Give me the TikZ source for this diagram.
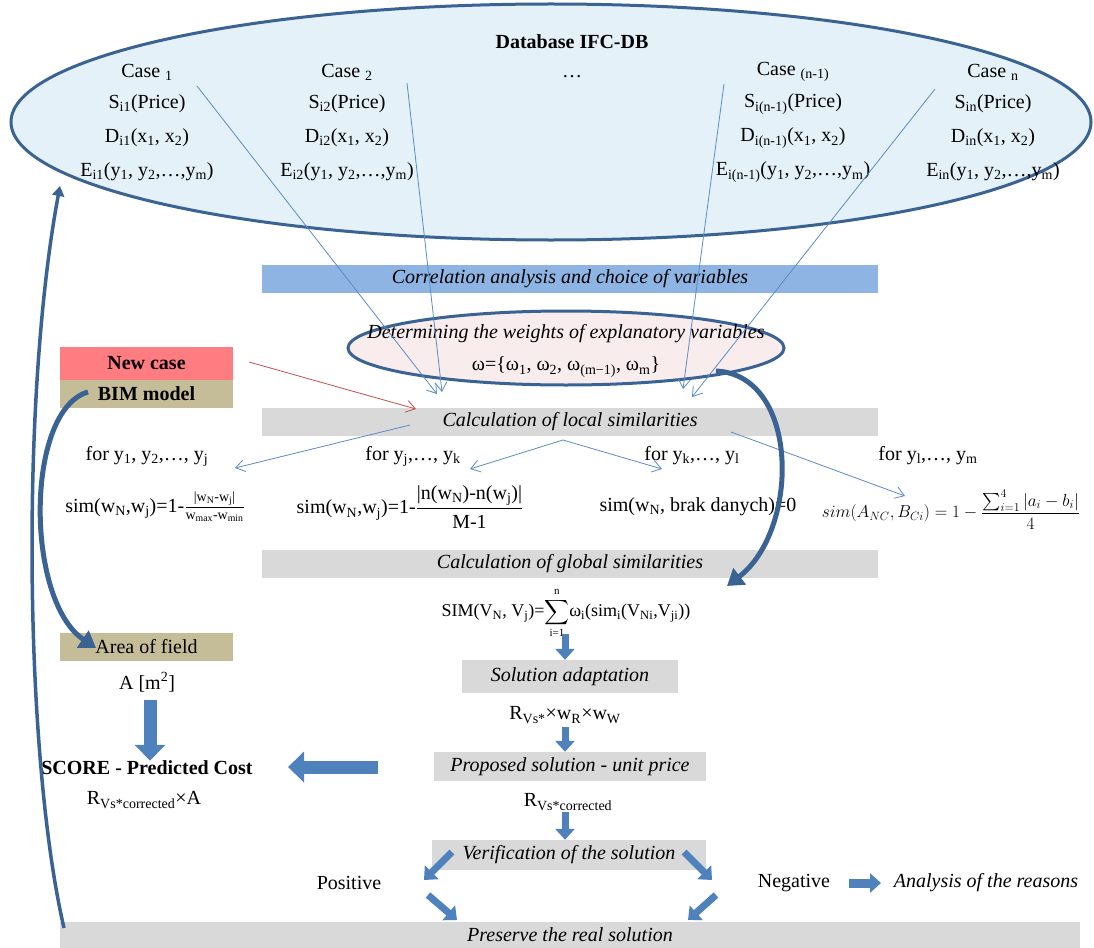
\documentclass[tikz,border=0pt]{standalone}
\usepackage{fontspec}
\setmainfont{Liberation Serif}
\usepackage{amsmath}
\usetikzlibrary{arrows.meta,shapes.geometric,calc}
\definecolor{dbfill}{HTML}{E4F1F8}
\definecolor{dkblue}{HTML}{3A6394}
\definecolor{lnblue}{HTML}{5B8BC9}
\definecolor{barblue}{HTML}{8DB4E2}
\definecolor{bargray}{HTML}{D9D9D9}
\definecolor{pinkfill}{HTML}{F9ECEC}
\definecolor{newred}{HTML}{FF7C80}
\definecolor{tanc}{HTML}{C4BD97}
\definecolor{arrfill}{HTML}{4F81BD}
\definecolor{redln}{HTML}{C0504D}
\newcommand\lo[1]{\textsubscript{#1}}
\newcommand\hi[1]{\textsuperscript{#1}}
\begin{document}
\begin{tikzpicture}[x=1pt,y=-1pt,
  font=\fontsize{20}{24}\selectfont,
  txt/.style={inner sep=0pt},
  graybar/.style={fill=bargray,inner sep=0pt,minimum height=28pt,font=\fontsize{20}{24}\selectfont\itshape},
  bluebar/.style={fill=barblue,inner sep=0pt,minimum height=28pt,font=\fontsize{20}{24}\selectfont\itshape},
  tanbox/.style={fill=tanc,inner sep=0pt,minimum width=173pt,minimum height=28pt},
  thinarr/.style={draw=lnblue,line width=0.8pt,-{Straight Barb[length=9pt,width=12pt]}},
  redarr/.style={draw=redln,line width=0.8pt,-{Straight Barb[length=9pt,width=12pt]}},
  blk/.style={draw=arrfill,line width=7pt,-{Triangle[length=11pt,width=19pt]}},
  curv/.style={draw=dkblue,line width=5pt,-{Triangle[length=16pt,width=20pt]}}
]
\useasboundingbox (0,0) rectangle (1094,947);

% database ellipse
\node[ellipse,draw=dkblue,line width=3pt,fill=dbfill,minimum width=1080pt,minimum height=236pt,inner sep=0pt] (db) at (551,122) {};
\node[txt,font=\fontsize{20}{24}\selectfont\bfseries] (dbt) at (572,42) {Database IFC-DB};
\node[txt] (c1) at (147,72) {Case \lo{1}};
\node[txt] (s1) at (147,104) {S\lo{i1}(Price)};
\node[txt] (d1) at (147,138) {D\lo{i1}(x\lo{1}, x\lo{2})};
\node[txt] (e1) at (147,172) {E\lo{i1}(y\lo{1}, y\lo{2},\ldots,y\lo{m})};
\node[txt] (c2) at (347,72) {Case \lo{2}};
\node[txt] (s2) at (347,104) {S\lo{i2}(Price)};
\node[txt] (d2) at (347,138) {D\lo{i2}(x\lo{1}, x\lo{2})};
\node[txt] (e2) at (347,172) {E\lo{i2}(y\lo{1}, y\lo{2},\ldots,y\lo{m})};
\node[txt] (dots) at (572,77) {\ldots};
\node[txt] (c3) at (793,72) {Case \lo{(n-1)}};
\node[txt] (s3) at (793,104) {S\lo{i(n-1)}(Price)};
\node[txt] (d3) at (793,138) {D\lo{i(n-1)}(x\lo{1}, x\lo{2})};
\node[txt] (e3) at (793,172) {E\lo{i(n-1)}(y\lo{1}, y\lo{2},\ldots,y\lo{m})};
\node[txt] (c4) at (993,72) {Case \lo{n}};
\node[txt] (s4) at (993,104) {S\lo{in}(Price)};
\node[txt] (d4) at (993,138) {D\lo{in}(x\lo{1}, x\lo{2})};
\node[txt] (e4) at (993,172) {E\lo{in}(y\lo{1}, y\lo{2},\ldots,y\lo{m})};

% bars
\node[bluebar,minimum width=616pt] (corr) at (570,279) {Correlation analysis and choice of variables};
\node[ellipse,draw=dkblue,line width=3pt,fill=pinkfill,minimum width=436pt,minimum height=74pt,inner sep=0pt] (wts) at (566,348) {};
\node[txt,font=\fontsize{20}{24}\selectfont\itshape] (wt1) at (566,334) {Determining the weights of explanatory variables};
\node[txt] (wt2) at (566,367) {ω=\{ω\lo{1}, ω\lo{2}, ω\lo{(m−1)}, ω\lo{m}\}};

\node[fill=newred,inner sep=0pt,minimum width=173pt,minimum height=33pt,font=\fontsize{20}{24}\selectfont\bfseries] (new) at (146.5,363.5) {New case};
\node[tanbox,font=\fontsize{20}{24}\selectfont\bfseries] (bim) at (146.5,394) {BIM model};

\node[graybar,minimum width=616pt] (loc) at (570,422) {Calculation of local similarities};

\node[txt] (f1) at (147,456) {for y\lo{1}, y\lo{2},\ldots, y\lo{j}};
\node[txt] (f2) at (413,456) {for y\lo{j},\ldots, y\lo{k}};
\node[txt] (f3) at (692,456) {for y\lo{k},\ldots, y\lo{l}};
\node[txt] (f4) at (928,456) {for y\lo{l},\ldots, y\lo{m}};

\node[txt] (g1) at (155,507) {sim(w\lo{N},w\lo{j})=1-$\frac{\text{|w\lo{N}-w\lo{j}|}}{\text{w\lo{max}-w\lo{min}}}$};
\node[txt] (g2) at (410,507) {sim(w\lo{N},w\lo{j})=1-$\dfrac{\text{|n(w\lo{N})-n(w\lo{j})|}}{\text{M-1}}$};
\node[txt] (g3) at (698,507) {sim(w\lo{N}, brak danych)=0};
\node[txt,font=\fontsize{18}{22}\selectfont] (g4) at (951,510) {$sim(A_{NC},B_{Ci})=1-\dfrac{\textstyle\sum\nolimits_{i=1}^{4}|a_i-b_i|}{4}$};

\node[graybar,minimum width=616pt] (glob) at (570,564) {Calculation of global similarities};
\node[txt,font=\fontsize{18}{22}\selectfont] (simf) at (566,613) {SIM(V\lo{N}, V\lo{j})=$\displaystyle\sum_{\text{\fontsize{11}{11}\selectfont i=1}}^{\text{\fontsize{11}{11}\selectfont n}}$ω\lo{i}(sim\lo{i}(V\lo{Ni},V\lo{ji}))};

\node[graybar,minimum width=216pt,minimum height=33pt] (adapt) at (570,676.5) {Solution adaptation};
\node[txt] (rw) at (565,715) {R\lo{Vs*}×w\lo{R}×w\lo{W}};
\node[graybar,minimum width=272pt,minimum height=29pt] (prop) at (570,766.5) {Proposed solution - unit price};
\node[txt] (rc) at (568,802) {R\lo{Vs*corrected}};
\node[graybar,minimum width=274pt,minimum height=30pt] (ver) at (569,855) {Verification of the solution};
\node[txt] (pos) at (349,883) {Positive};
\node[txt] (neg) at (794,883) {Negative};
\node[txt,font=\fontsize{20}{24}\selectfont\itshape] (ana) at (986,883) {Analysis of the reasons};
\node[graybar,minimum width=1020pt,minimum height=26pt] (pres) at (570,935) {Preserve the real solution};

\node[tanbox] (area) at (146.5,646.5) {Area of field};
\node[txt] (am) at (147,682) {A [m\hi{2}]};
\node[txt,font=\fontsize{20}{24}\selectfont\bfseries] (score) at (147,768) {SCORE - Predicted Cost};
\node[txt] (ra) at (144,800) {R\lo{Vs*corrected}×A};

% thin arrows
\coordinate (a1s) at (197,86);
\coordinate (a1e) at (437,394);
\coordinate (a2s) at (407,83);
\coordinate (a2e) at (442,392);
\coordinate (a3s) at (724,84);
\coordinate (a3e) at (683,389);
\coordinate (a4s) at (935,89);
\coordinate (a4e) at (692,397);
\draw[thinarr] (a1s) -- (a1e);
\draw[thinarr] (a2s) -- (a2e);
\draw[thinarr] (a3s) -- (a3e);
\draw[thinarr] (a4s) -- (a4e);
\coordinate (rs) at (249,362);
\coordinate (re) at (416,409);
\draw[redarr] (rs) -- (re);
\coordinate (l1s) at (410,425);
\coordinate (l1e) at (235,468);
\coordinate (lp) at (563,440);
\coordinate (l2e) at (470,469);
\coordinate (l3e) at (662,469);
\coordinate (l4s) at (731,432);
\coordinate (l4e) at (905,496);
\draw[thinarr] (l1s) -- (l1e);
\draw[thinarr] (lp) -- (l2e);
\draw[thinarr] (lp) -- (l3e);
\draw[thinarr] (l4s) -- (l4e);

% block arrows
\coordinate (sa) at (565,634);
\draw[blk] (sa) -- (adapt.north -| sa);
\coordinate (sb) at (565,727);
\draw[blk] (sb) -- (prop.north -| sb);
\coordinate (sc) at (565,812);
\draw[blk] (sc) -- (ver.north -| sc);
\coordinate (sd) at (150,700);
\draw[blk,line width=13pt,-{Triangle[length=16pt,width=30pt]}] (sd) -- (score.north -| sd);
\coordinate (la1) at (378,767);
\coordinate (la2) at (288,767);
\draw[blk,line width=13pt,-{Triangle[length=16pt,width=30pt]}] (la1) -- (la2);
\coordinate (v1s) at (452,852);
\coordinate (v1e) at (424,880);
\coordinate (v2s) at (684,852);
\coordinate (v2e) at (712,880);
\coordinate (v3s) at (428,895);
\coordinate (v3e) at (457,920);
\coordinate (v4s) at (716,895);
\coordinate (v4e) at (688,920);
\draw[blk] (v1s) -- (v1e);
\draw[blk] (v2s) -- (v2e);
\draw[blk] (v3s) -- (v3e);
\draw[blk] (v4s) -- (v4e);
\coordinate (n1) at (849,883);
\coordinate (n2) at (881,883);
\draw[blk,line width=9pt] (n1) -- (n2);

% thick curves
\coordinate (p1) at (64,928);
\coordinate (p2) at (60,186);
\draw[curv,line width=3.5pt,-{Triangle[length=10pt,width=12pt]}] (p1) .. controls (25,760) and (20,400) .. (p2);
\coordinate (b1) at (88,392);
\coordinate (b2) at (96,648);
\draw[curv] (b1) .. controls (25,410) and (25,600) .. (b2);
\coordinate (w1) at (716,371);
\coordinate (w2) at (727,586);
\draw[curv] (w1) .. controls (800,375) and (800,530) .. (w2);
\end{tikzpicture}
\end{document}
